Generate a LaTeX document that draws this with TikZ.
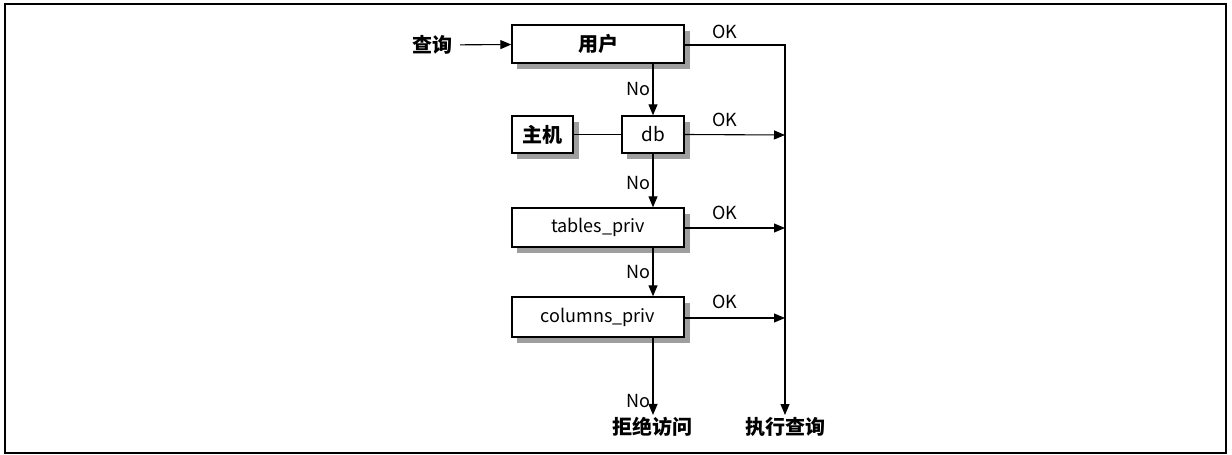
\documentclass[tikz,border=0pt]{standalone}
\usepackage{fontspec}
\setmainfont{Noto Sans CJK SC}
\usetikzlibrary{arrows.meta,calc}
\begin{document}
\begin{tikzpicture}[x=0.5pt,y=-0.5pt,
  font=\fontsize{9}{11}\selectfont,
  box/.style={draw=black,line width=0.7pt,fill=white,inner sep=0pt,anchor=center},
  shade/.style={fill=black!38},
  conn/.style={line width=0.55pt},
  arr/.style={conn,-{Triangle[length=5.5pt,width=4.5pt]}},
  lab/.style={inner sep=1pt},
  cjkbox/.style={font=\fontsize{10}{12}\selectfont\bfseries},
  head/.style={font=\fontsize{10}{12}\selectfont\bfseries,inner sep=1pt}]
\useasboundingbox (0,0) rectangle (1232,455);
\draw[line width=1pt] (5,4) rectangle (1226,453);
% shadows
\foreach \a/\b/\c/\d in {512/25/684/63, 512/116/573/153, 622/116/684/153, 512/208/684/247, 512/297/684/337}{
  \fill[shade] (\a+5,\b+6) rectangle (\c+6,\d+6);
}
% boxes
\node[box,cjkbox,minimum width=86pt,minimum height=19pt] (user) at (598,44) {用户};
\node[box,cjkbox,minimum width=30.5pt,minimum height=18.5pt] (host) at (542.5,134.5) {主机};
\node[box,minimum width=31pt,minimum height=18.5pt,font=\fontsize{9.5}{11}\selectfont] (db) at (653,134.5) {db};
\node[box,minimum width=86pt,minimum height=19.5pt] (tp) at (598,227.5) {tables\_priv};
\node[box,minimum width=86pt,minimum height=20pt] (cp) at (598,317) {columns\_priv};
% terminals
\node[head,outer sep=3pt] (query) at (432,45) {查询};
\node[head] (deny) at (652,427) {拒绝访问};
\node[head] (exec) at (785,427) {执行查询};
% right vertical line coordinates
\coordinate (top) at (785,45);
\coordinate (c2) at (785,135);
\coordinate (c3) at (785,228);
\coordinate (c4) at (785,318);
% connectors
\draw[arr] (query) -- (user);
\draw[arr] (user.east |- top) -- (top) -- (exec.north);
\node[lab] at (725,32) {OK};
\draw[arr] (user.south -| db.north) -- node[lab,left,pos=0.5] {No} (db.north);
\draw[conn] (host) -- (db);
\draw[arr] (db.east) -- (c2);
\node[lab] at (725,120) {OK};
\draw[arr] (db.south) -- node[lab,left,pos=0.55] {No} (tp.north -| db.south);
\draw[arr] (tp.east |- c3) -- (c3);
\node[lab] at (725,213) {OK};
\draw[arr] (tp.south -| db.south) -- node[lab,left,pos=0.5] {No} (cp.north -| db.south);
\draw[arr] (cp.east |- c4) -- (c4);
\node[lab] at (725,302) {OK};
\draw[arr] (cp.south -| db.south) -- node[lab,left,pos=0.82] {No} (deny.north -| db.south);
\end{tikzpicture}
\end{document}
